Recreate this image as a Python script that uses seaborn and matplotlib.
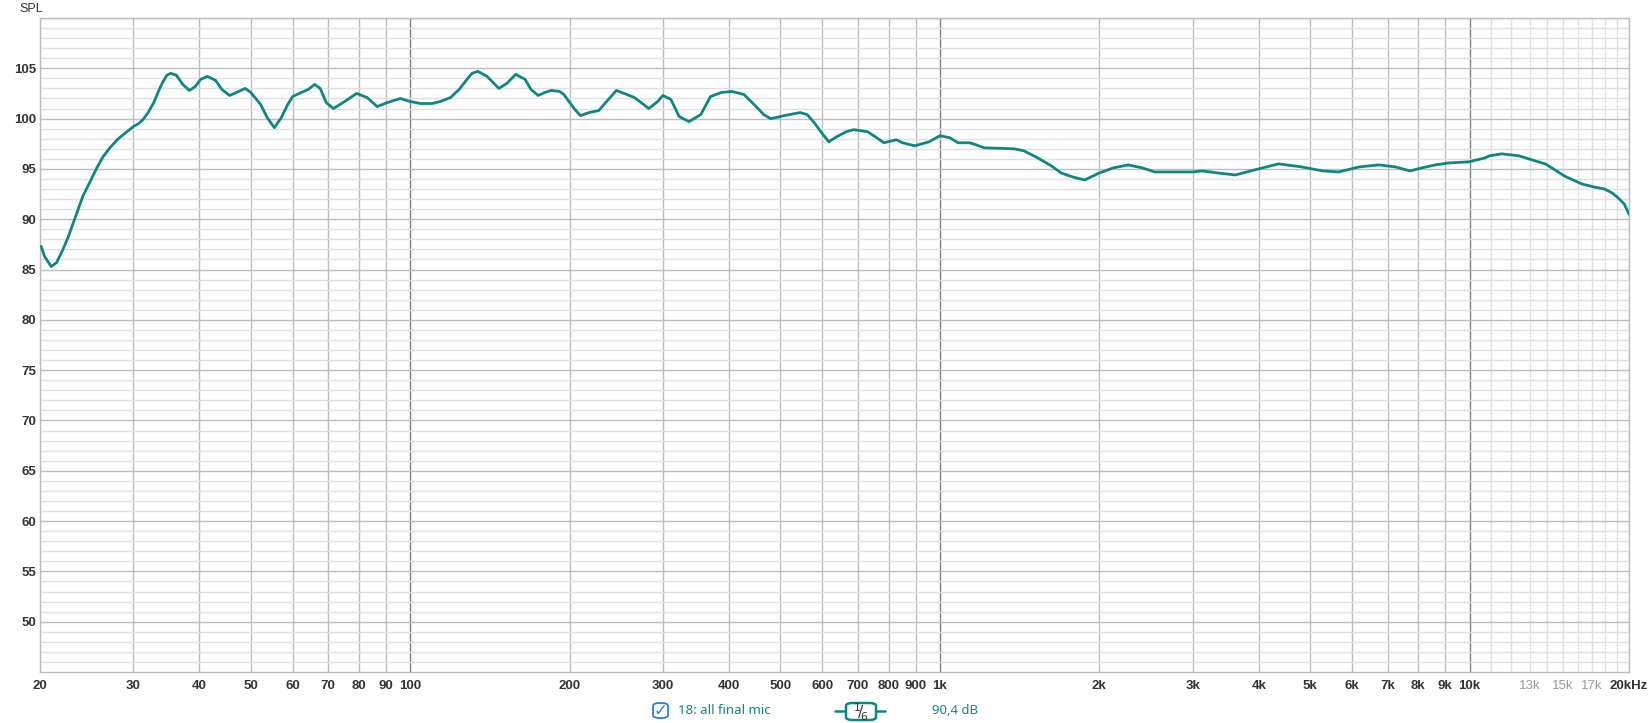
import numpy as np
import pandas as pd
import matplotlib
matplotlib.use("Agg")
import matplotlib.pyplot as plt
from matplotlib.patches import FancyBboxPatch
from matplotlib.ticker import NullFormatter
import seaborn as sns

# frequency response
freq_hz = [20.1, 20.4, 21.0, 21.5, 22.1, 22.6, 23.1, 23.6, 24.1, 24.9, 25.6, 26.3, 27.1, 28.1,
           29.2, 30.0, 30.7, 31.3, 32.0, 32.8, 33.4, 34.0, 34.7, 35.3, 36.2, 37.2, 38.3, 39.3,
           40.2, 41.4, 42.9, 44.1, 45.6, 47.0, 48.8, 50.0, 52.2, 53.7, 55.4, 57.1, 58.7, 60.0,
           62.9, 64.2, 66.0, 67.6, 69.4, 71.6, 74.7, 79.2, 82.9, 86.6, 90.6, 95.8,
           100, 104.6, 110, 114, 119.2, 123.7, 128, 130.8, 134.2, 139.6, 147, 152.2, 158.2,
           164.8, 169, 174.4, 179.6, 184.5, 191.5, 195, 200, 204.7, 209.6, 217.5, 227, 233.9,
           245, 253.6, 265, 272.8, 282, 293.2, 300, 310.6, 322, 336, 353.6, 369, 387, 405,
           426.6, 446, 465, 479, 500, 508, 545, 561.7, 579, 598, 617, 638.7, 666, 688, 730,
           755, 784, 828, 850, 896, 955, 1000, 1044, 1082, 1138, 1170, 1212, 1380, 1441,
           1530, 1624, 1694, 1781, 1876, 2000, 2125, 2266, 2412, 2544, 2823, 3000, 3128,
           3346, 3612, 3994, 4360, 4820, 5285, 5660, 6190, 6740, 7244, 7720, 8120, 8620,
           9150, 9960, 10700, 10900, 11500, 12400, 13300, 13900, 14500, 15100, 16300,
           17200, 18000, 18600, 19100, 19600, 20000]
spl_db = [87.3, 86.3, 85.3, 85.7, 87.0, 88.2, 89.6, 91.0, 92.3, 93.8, 95.1, 96.2, 97.1, 98.0,
          98.7, 99.2, 99.5, 99.9, 100.6, 101.6, 102.6, 103.5, 104.3, 104.5, 104.3, 103.4, 102.8, 103.2,
          103.9, 104.2, 103.8, 102.9, 102.3, 102.6, 103.0, 102.6, 101.4, 100.1, 99.1, 100.1, 101.4, 102.2,
          102.7, 102.9, 103.4, 103.0, 101.6, 101.0, 101.6, 102.5, 102.1, 101.2, 101.6, 102.0,
          101.7, 101.5, 101.5, 101.7, 102.1, 102.9, 103.9, 104.5, 104.7, 104.2, 103.0, 103.5, 104.4,
          103.9, 102.9, 102.3, 102.6, 102.8, 102.7, 102.4, 101.6, 100.9, 100.3, 100.6, 100.8, 101.6,
          102.8, 102.5, 102.1, 101.6, 101.0, 101.7, 102.3, 101.9, 100.2, 99.7, 100.4, 102.2, 102.6, 102.7,
          102.4, 101.4, 100.4, 100.0, 100.2, 100.3, 100.6, 100.4, 99.6, 98.6, 97.7, 98.2, 98.7, 98.9, 98.7,
          98.2, 97.6, 97.9, 97.6, 97.3, 97.7, 98.3, 98.1, 97.6, 97.6, 97.4, 97.1, 97.0, 96.8,
          96.1, 95.3, 94.6, 94.2, 93.9, 94.6, 95.1, 95.4, 95.1, 94.7, 94.7, 94.7, 94.8,
          94.6, 94.4, 95.0, 95.5, 95.2, 94.8, 94.7, 95.2, 95.4, 95.2, 94.8, 95.1, 95.4,
          95.6, 95.7, 96.1, 96.3, 96.5, 96.3, 95.8, 95.5, 94.9, 94.3, 93.5,
          93.2, 93.0, 92.6, 92.1, 91.5, 90.5]

x_ticks = [20, 30, 40, 50, 60, 70, 80, 90, 100, 200, 300, 400, 500, 600, 700, 800, 900,
           1000, 2000, 3000, 4000, 5000, 6000, 7000, 8000, 9000, 10000, 13000, 15000, 17000, 20000]
x_labels = ["20", "30", "40", "50", "60", "70", "80", "90", "100", "200", "300", "400", "500",
            "600", "700", "800", "900", "1k", "2k", "3k", "4k", "5k", "6k", "7k", "8k", "9k",
            "10k", "13k", "15k", "17k", "20kHz"]
x_minor = [11000, 12000, 14000, 16000, 18000, 19000]
y_ticks = [50, 55, 60, 65, 70, 75, 80, 85, 90, 95, 100, 105, 110]
y_labels = ["50", "55", "60", "65", "70", "75", "80", "85", "90", "95", "100", "105", ""]

teal = "#0f8781"

sns.set_style("white")
plt.rcParams["font.family"] = ["Liberation Sans", "DejaVu Sans"]

fig = plt.figure(figsize=(16.49, 7.23), dpi=100)
ax = fig.add_axes([40 / 1649, 51 / 723, 1589 / 1649, 654 / 723])

df = pd.DataFrame({"freq": freq_hz, "spl": spl_db})
sns.lineplot(data=df, x="freq", y="spl", ax=ax, color=teal, linewidth=2.0, zorder=5)

ax.set_xscale("log")
ax.set_xlim(20, 20000)
ax.set_ylim(45, 110)
ax.set_xticks(x_ticks)
ax.set_xticklabels(x_labels)
ax.set_xticks(x_minor, minor=True)
ax.xaxis.set_minor_formatter(NullFormatter())
ax.set_yticks(y_ticks)
ax.set_yticklabels(y_labels)
ax.set_yticks(np.arange(46, 110, 1), minor=True)
ax.yaxis.set_minor_formatter(NullFormatter())
ax.set_xlabel("")
ax.set_ylabel("")

ax.grid(True, which="major", color="#bdbdbd", linewidth=1.0)
ax.grid(True, which="minor", color="#e0e0e0", linewidth=1.0)
ax.set_axisbelow(True)
for g, v in zip(ax.get_xgridlines(), x_ticks):
    if v in (100, 1000, 10000):
        g.set_color("#808080")
    elif v in (13000, 15000, 17000):
        g.set_color("#e0e0e0")

ax.tick_params(axis="both", which="both", length=0, labelsize=9.5, labelcolor="#333333")
ax.tick_params(axis="x", pad=6)
ax.tick_params(axis="y", pad=3)
for lab in ax.get_xticklabels() + ax.get_yticklabels():
    lab.set_fontweight("bold")
for lab, v in zip(ax.get_xticklabels(), x_ticks):
    if v in (13000, 15000, 17000):
        lab.set_color("#9a9a9a")
        lab.set_fontweight("normal")

for s in ax.spines.values():
    s.set_color("#bdbdbd")
    s.set_linewidth(1.0)

fig.text(19 / 1649, 1 - 9 / 723, "SPL", fontsize=9, color="#333333", va="center", ha="left")

# legend strip at the bottom
fig.add_artist(FancyBboxPatch((653 / 1649, 1 - 718 / 723), 15 / 1649, 15 / 723,
                              boxstyle="round,pad=0,rounding_size=0.004",
                              transform=fig.transFigure, facecolor="white",
                              edgecolor="#2a7de1", linewidth=1.3))
fig.text(660.5 / 1649, 1 - 711 / 723, "\u2713", fontsize=12, color="#2a7de1",
         ha="center", va="center", family=["DejaVu Sans"], fontweight="bold")
fig.text(678 / 1649, 1 - 711 / 723, "18: all final mic", fontsize=9.5, color=teal,
         ha="left", va="center", family=["Noto Sans", "DejaVu Sans"])
fig.add_artist(plt.Line2D([835 / 1649, 885 / 1649], [1 - 711 / 723, 1 - 711 / 723],
                          transform=fig.transFigure, color=teal, linewidth=1.8))
fig.add_artist(FancyBboxPatch((846 / 1649, 1 - 720 / 723), 30 / 1649, 17 / 723,
                              boxstyle="round,pad=0,rounding_size=0.004",
                              transform=fig.transFigure, facecolor="white",
                              edgecolor=teal, linewidth=1.8, zorder=3))
fig.text(861 / 1649, 1 - 712 / 723, r"$^{1}\!/\!_{6}$", fontsize=11, color="#333333",
         ha="center", va="center", zorder=4)
fig.text(932 / 1649, 1 - 711 / 723, "90,4 dB", fontsize=9.5, color=teal,
         ha="left", va="center", family=["Noto Sans", "DejaVu Sans"])

fig.savefig("out.png", dpi=100)
